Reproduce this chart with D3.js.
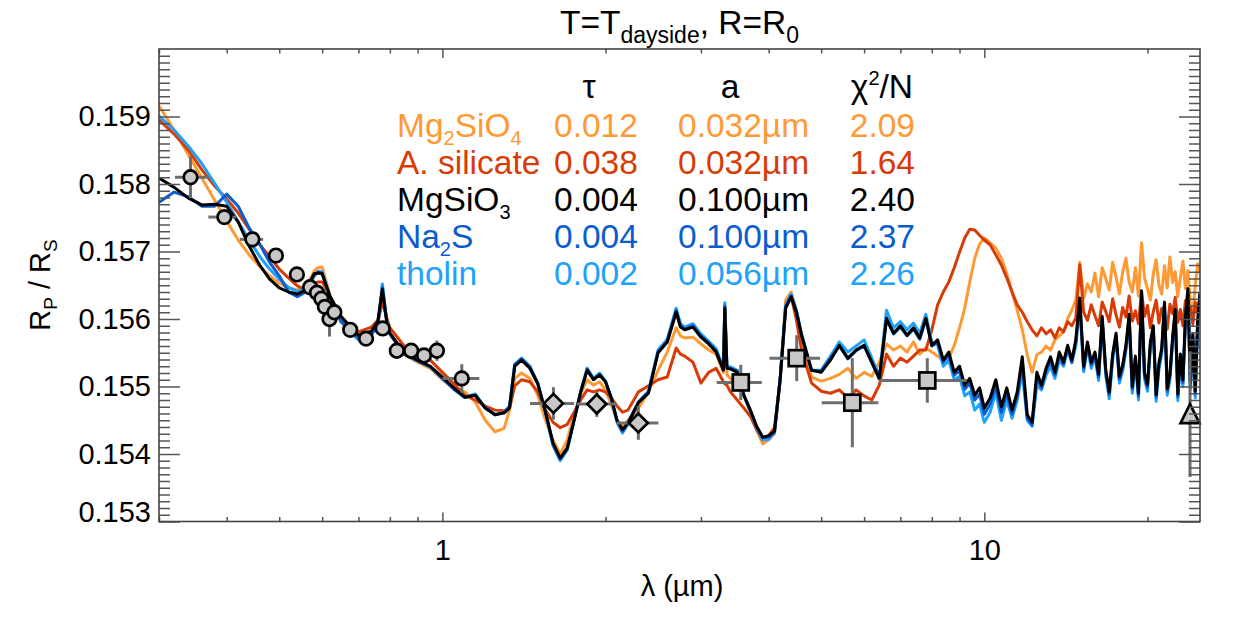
<!DOCTYPE html>
<html>
<head>
<meta charset="utf-8">
<title>T=T dayside, R=R0</title>
<script src="https://d3js.org/d3.v7.min.js"></script>
<style>
  body { margin: 0; background: #fff; }
  svg text { font-family: "Liberation Sans", Arial, Helvetica, sans-serif; white-space: pre; }
</style>
</head>
<body>
<svg width="1246" height="623" id="spec"></svg>
<script>
// wavelength grid of the model spectra (micron)
var wave = [0.30,0.32,0.34,0.36,0.38,0.40,0.42,0.44,0.46,0.48,0.50,0.52,0.54,0.56,0.58,0.59,0.60,
  0.62,0.65,0.70,0.74,0.76,0.775,0.79,0.80,0.85,0.90,0.95,1.00,1.05,1.10,1.15,1.20,1.25,1.30,1.33,1.36,1.40,
  1.45,1.50,1.55,1.60,1.65,1.70,1.75,1.80,1.85,1.90,1.95,2.00,2.05,2.10,2.15,2.20,2.30,2.40,2.50,2.60,
  2.70,2.75,2.80,2.90,3.00,3.10,3.20,3.30,3.32,3.35,3.40,3.50,3.60,3.70,3.80,3.90,4.00,4.10,4.20,4.30,
  4.40,4.50,4.60,4.80,5.00,5.20,
  5.4,5.6,5.8,6.0,6.2,6.4,6.6,6.8,7.0,7.2,7.4,7.6,7.8,8.0,8.2,8.4,8.6,8.8,9.0,9.2,9.4,9.6,9.8,10.0,
  10.25,10.5,10.75,11,11.25,11.5,11.75,12,12.25,12.5,12.75,13,13.25,13.5,13.75,14,14.25,14.5,14.75,15,
  15.25,15.5,15.75,16,16.25,16.5,16.75,17,17.25,17.5,17.75,18,18.25,18.5,18.75,19,19.25,19.5,19.75,20,
  20.25,20.5,20.75,21,21.25,21.5,21.75,22,22.25,22.5,22.75,23,23.25,23.5,23.75,24,24.25,24.5,24.75,25];

// model Rp/Rs on that grid, one array per condensate
var mg2sio4 = [0.15916,0.15880,0.15843,0.15809,0.15776,0.15745,0.15717,0.15695,0.15678,0.15664,0.15653,0.15646,0.15643,0.15647,0.15671,0.15676,0.15677,
  0.15636,0.15595,0.15575,0.15581,0.15593,0.15628,0.15601,0.15578,0.15547,0.15536,0.15527,0.15510,0.15498,0.15492,0.15477,0.15450,0.15433,0.15438,0.15465,0.15512,0.15520,
  0.15512,0.15487,0.15450,0.15421,0.15400,0.15421,0.15459,0.15489,0.15510,0.15502,0.15507,0.15495,0.15473,0.15450,0.15441,0.15450,0.15468,0.15492,0.15524,0.15551,
  0.15587,0.15575,0.15572,0.15573,0.15563,0.15554,0.15548,0.15521,0.15621,0.15517,0.15512,0.15502,0.15487,0.15462,0.15436,0.15415,0.15421,0.15430,0.15510,0.15628,
  0.15640,0.15612,0.15569,0.15514,0.15508,0.15512,
  0.15518,0.15527,0.15512,0.15521,0.15515,0.15536,0.15563,0.15554,0.15560,0.15551,0.15566,0.15548,0.15557,0.15551,0.15545,0.15539,0.15542,0.15561,0.15587,0.15616,0.15655,0.15690,0.15711,0.15720,
  0.15713,0.15705,0.15690,0.15667,0.15640,0.15613,0.15584,0.15547,0.15521,0.15547,0.15551,0.15560,0.15554,0.15569,0.15575,0.15581,0.15601,0.15613,0.15628,0.15684,
  0.15631,0.15652,0.15640,0.15668,0.15633,0.15676,0.15660,0.15643,0.15684,0.15662,0.15637,0.15670,0.15690,0.15655,0.15640,0.15676,0.15634,0.15713,0.15661,0.15645,
  0.15628,0.15667,0.15688,0.15650,0.15637,0.15679,0.15646,0.15692,0.15654,0.15670,0.15633,0.15662,0.15686,0.15645,0.15672,0.15621,0.15608,0.15650,0.15682,0.15668];

var asil = [0.15895,0.15874,0.15850,0.15821,0.15797,0.15778,0.15757,0.15733,0.15711,0.15692,0.15674,0.15661,0.15649,0.15643,0.15652,0.15655,0.15655,
  0.15634,0.15601,0.15581,0.15588,0.15598,0.15625,0.15601,0.15587,0.15560,0.15548,0.15539,0.15521,0.15504,0.15487,0.15480,0.15471,0.15465,0.15464,0.15468,0.15501,0.15510,
  0.15507,0.15492,0.15465,0.15447,0.15439,0.15444,0.15462,0.15480,0.15495,0.15492,0.15495,0.15492,0.15483,0.15471,0.15462,0.15465,0.15492,0.15501,0.15510,0.15514,
  0.15557,0.15548,0.15545,0.15536,0.15505,0.15521,0.15527,0.15507,0.15504,0.15502,0.15492,0.15480,0.15468,0.15456,0.15436,0.15421,0.15427,0.15439,0.15510,0.15619,
  0.15634,0.15599,0.15554,0.15505,0.15493,0.15490,
  0.15495,0.15483,0.15495,0.15486,0.15480,0.15502,0.15548,0.15530,0.15542,0.15536,0.15545,0.15554,0.15554,0.15584,0.15621,0.15640,0.15655,0.15676,0.15699,0.15720,0.15733,0.15732,0.15724,0.15717,
  0.15710,0.15695,0.15680,0.15661,0.15640,0.15621,0.15610,0.15596,0.15584,0.15575,0.15587,0.15578,0.15584,0.15572,0.15587,0.15581,0.15596,0.15590,0.15601,0.15680,
  0.15610,0.15598,0.15621,0.15605,0.15590,0.15625,0.15611,0.15596,0.15630,0.15606,0.15588,0.15617,0.15603,0.15634,0.15597,0.15612,0.15593,0.15640,0.15604,0.15620,
  0.15587,0.15611,0.15628,0.15594,0.15616,0.15603,0.15585,0.15622,0.15608,0.15632,0.15595,0.15614,0.15590,0.15627,0.15606,0.15619,0.15592,0.15625,0.15609,0.15631];

var mgsio3 = [0.15809,0.15795,0.15779,0.15769,0.15770,0.15767,0.15744,0.15708,0.15680,0.15659,0.15646,0.15640,0.15637,0.15643,0.15667,0.15668,0.15667,
  0.15634,0.15604,0.15576,0.15582,0.15596,0.15644,0.15594,0.15579,0.15550,0.15539,0.15530,0.15514,0.15498,0.15484,0.15487,0.15468,0.15458,0.15461,0.15468,0.15530,0.15539,
  0.15527,0.15504,0.15462,0.15416,0.15394,0.15409,0.15450,0.15492,0.15524,0.15510,0.15517,0.15507,0.15483,0.15450,0.15436,0.15446,0.15476,0.15490,0.15550,0.15566,
  0.15610,0.15588,0.15584,0.15588,0.15573,0.15563,0.15551,0.15524,0.15616,0.15527,0.15526,0.15521,0.15487,0.15465,0.15441,0.15425,0.15427,0.15434,0.15510,0.15616,
  0.15633,0.15610,0.15576,0.15524,0.15521,0.15539,
  0.15561,0.15542,0.15554,0.15561,0.15536,0.15512,0.15601,0.15579,0.15590,0.15576,0.15587,0.15572,0.15601,0.15561,0.15569,0.15539,0.15551,0.15521,0.15530,0.15502,0.15512,0.15487,0.15498,0.15468,
  0.15483,0.15510,0.15470,0.15498,0.15465,0.15492,0.15544,0.15458,0.15447,0.15521,0.15502,0.15527,0.15544,0.15521,0.15551,0.15536,0.15561,0.15539,0.15569,0.15631,
  0.15530,0.15566,0.15536,0.15551,0.15518,0.15604,0.15525,0.15492,0.15548,0.15579,0.15515,0.15532,0.15561,0.15607,0.15500,0.15545,0.15490,0.15642,0.15520,0.15503,
  0.15566,0.15590,0.15488,0.15535,0.15557,0.15625,0.15497,0.15519,0.15572,0.15614,0.15489,0.15548,0.15510,0.15604,0.15645,0.15505,0.15578,0.15493,0.15596,0.15640];

var na2s = [0.15773,0.15788,0.15781,0.15767,0.15767,0.15785,0.15767,0.15735,0.15711,0.15684,0.15664,0.15640,0.15633,0.15640,0.15664,0.15670,0.15668,
  0.15633,0.15597,0.15572,0.15579,0.15590,0.15647,0.15594,0.15578,0.15548,0.15538,0.15529,0.15512,0.15496,0.15484,0.15487,0.15468,0.15458,0.15461,0.15470,0.15532,0.15541,
  0.15529,0.15504,0.15462,0.15415,0.15393,0.15407,0.15450,0.15492,0.15526,0.15511,0.15518,0.15507,0.15483,0.15449,0.15434,0.15446,0.15477,0.15492,0.15551,0.15567,
  0.15613,0.15590,0.15585,0.15590,0.15575,0.15565,0.15553,0.15526,0.15619,0.15529,0.15527,0.15523,0.15487,0.15465,0.15440,0.15424,0.15425,0.15433,0.15511,0.15618,
  0.15634,0.15612,0.15576,0.15524,0.15523,0.15542,
  0.15560,0.15541,0.15553,0.15560,0.15535,0.15511,0.15599,0.15578,0.15588,0.15575,0.15585,0.15570,0.15600,0.15560,0.15566,0.15536,0.15547,0.15517,0.15524,0.15496,0.15505,0.15480,0.15489,0.15459,
  0.15474,0.15501,0.15462,0.15490,0.15459,0.15486,0.15536,0.15453,0.15443,0.15514,0.15498,0.15523,0.15539,0.15517,0.15547,0.15533,0.15558,0.15536,0.15566,0.15628,
  0.15526,0.15562,0.15532,0.15547,0.15514,0.15600,0.15521,0.15488,0.15544,0.15575,0.15511,0.15528,0.15557,0.15603,0.15496,0.15541,0.15486,0.15638,0.15516,0.15499,
  0.15562,0.15586,0.15484,0.15531,0.15553,0.15621,0.15493,0.15515,0.15568,0.15611,0.15485,0.15544,0.15506,0.15600,0.15642,0.15501,0.15574,0.15489,0.15592,0.15636];

var tholin = [0.15901,0.15880,0.15856,0.15830,0.15801,0.15773,0.15744,0.15717,0.15693,0.15674,0.15659,0.15647,0.15641,0.15644,0.15664,0.15670,0.15670,
  0.15631,0.15596,0.15569,0.15576,0.15591,0.15652,0.15596,0.15578,0.15548,0.15538,0.15529,0.15512,0.15496,0.15484,0.15489,0.15468,0.15459,0.15462,0.15471,0.15533,0.15542,
  0.15530,0.15505,0.15461,0.15412,0.15390,0.15406,0.15450,0.15493,0.15527,0.15512,0.15520,0.15508,0.15481,0.15447,0.15431,0.15444,0.15477,0.15493,0.15554,0.15570,
  0.15616,0.15593,0.15588,0.15593,0.15578,0.15567,0.15556,0.15527,0.15624,0.15530,0.15529,0.15524,0.15487,0.15464,0.15439,0.15421,0.15422,0.15431,0.15512,0.15621,
  0.15637,0.15613,0.15578,0.15524,0.15524,0.15545,
  0.15566,0.15551,0.15560,0.15569,0.15542,0.15515,0.15613,0.15587,0.15596,0.15584,0.15594,0.15579,0.15607,0.15566,0.15561,0.15530,0.15539,0.15510,0.15515,0.15486,0.15492,0.15465,0.15474,0.15447,
  0.15462,0.15492,0.15450,0.15480,0.15453,0.15480,0.15521,0.15450,0.15441,0.15502,0.15495,0.15517,0.15530,0.15512,0.15539,0.15530,0.15554,0.15535,0.15560,0.15621,
  0.15522,0.15559,0.15527,0.15544,0.15509,0.15597,0.15516,0.15482,0.15540,0.15572,0.15505,0.15523,0.15553,0.15600,0.15490,0.15537,0.15480,0.15636,0.15511,0.15493,
  0.15558,0.15584,0.15478,0.15526,0.15549,0.15619,0.15487,0.15510,0.15564,0.15608,0.15479,0.15540,0.15500,0.15597,0.15639,0.15495,0.15570,0.15483,0.15589,0.15633];

// legend table
var names   = ["Mg_{2}SiO_{4}", "A. silicate", "MgSiO_{3}", "Na_{2}S", "tholin"];
var tauVals = ["0.012", "0.038", "0.004", "0.004", "0.002"];
var aVals   = ["0.032", "0.032", "0.100", "0.100", "0.056"];
var chiVals = ["2.09", "1.64", "2.40", "2.37", "2.26"];
var colors  = ["#ff9933", "#d83c06", "#000000", "#0a5ccf", "#20a2f8"];

// observations: [lambda, Rp/Rs, lambda low, lambda high, error]
var circleObs = [
  [0.343, 0.15810, 0.321, 0.370, 0.00031], [0.396, 0.15751, 0.370, 0.416, 0.00008],
  [0.446, 0.15718, 0.423, 0.467, 0.00010], [0.493, 0.15694, 0.480, 0.506, 0.00008],
  [0.539, 0.15666, 0.530, 0.548, 0.00008], [0.570, 0.15647, 0.565, 0.575, 0.00008],
  [0.587, 0.15639, 0.582, 0.592, 0.00008], [0.598, 0.15630, 0.593, 0.603, 0.00008],
  [0.607, 0.15618, 0.602, 0.612, 0.00010], [0.619, 0.15600, 0.614, 0.624, 0.00026],
  [0.632, 0.15610, 0.627, 0.637, 0.00008], [0.676, 0.15584, 0.668, 0.684, 0.00008],
  [0.723, 0.15571, 0.714, 0.732, 0.00008], [0.776, 0.15586, 0.768, 0.784, 0.00008],
  [0.824, 0.15553, 0.814, 0.834, 0.00008], [0.876, 0.15553, 0.866, 0.886, 0.00008],
  [0.925, 0.15546, 0.915, 0.935, 0.00008], [0.977, 0.15553, 0.967, 0.987, 0.00015],
  [1.086, 0.15512, 1.000, 1.170, 0.00021]];
var diamondObs = [
  [1.603, 0.15475, 1.451, 1.750, 0.00024], [1.927, 0.15474, 1.770, 2.098, 0.00019],
  [2.299, 0.15446, 2.098, 2.503, 0.00025]];
var squareObs = [
  [3.553, 0.15506, 3.208, 3.885, 0.00026], [4.506, 0.15542, 4.012, 4.977, 0.00034],
  [5.707, 0.15476, 5.010, 6.375, 0.00066], [7.848, 0.15509, 6.394, 9.280, 0.00033]];
var triangleObs = [[23.96, 0.15459, 23.96, 23.96, 0.00093]];

var xMajor = [1, 10];
var xMinor = [0.3, 0.4, 0.5, 0.6, 0.7, 0.8, 0.9, 2, 3, 4, 5, 6, 7, 8, 9, 20];
var yMajor = [0.153, 0.154, 0.155, 0.156, 0.157, 0.158, 0.159];

var svg = d3.select("#spec"),
    margin = {top: 49, right: 46, bottom: 101.5, left: 159},
    width = +svg.attr("width") - margin.left - margin.right,
    height = +svg.attr("height") - margin.top - margin.bottom;

var x = d3.scaleLog().domain([0.3, 25]).range([0, width]);
var y = d3.scaleLinear().domain([0.153, 0.160]).range([height, 0]);
var yMinor = d3.range(1531, 1600).filter(function(v) { return v % 10; }).map(function(v) { return v / 10000; });

var g = svg.append("g").attr("transform", "translate(" + margin.left + "," + margin.top + ")");

g.append("clipPath").attr("id", "plotclip")
  .append("rect").attr("width", width).attr("height", height);

// text with _{...} subscripts
function richText(sel, str, subSize, drop) {
  var shifted = 0;
  str.split(/_\{([^}]*)\}/).forEach(function(p, i) {
    if (p === "") return;
    var t = sel.append("tspan").text(p);
    if (i % 2) { t.attr("font-size", subSize).attr("dy", drop - shifted); shifted = drop; }
    else if (shifted) { t.attr("dy", -shifted); shifted = 0; }
  });
  return sel;
}

// ---- model spectra
var models = [mg2sio4, asil, mgsio3, na2s, tholin];
var line = d3.line()
  .x(function(d, i) { return x(wave[i]); })
  .y(function(d) { return y(d); });

var lines = g.append("g").attr("clip-path", "url(#plotclip)");
[0, 1, 4, 3, 2].forEach(function(k) {
  lines.append("path")
    .datum(models[k])
    .attr("fill", "none")
    .attr("stroke", colors[k])
    .attr("stroke-width", 3)
    .attr("stroke-linejoin", "round")
    .attr("d", line);
});

// ---- observations
var obsAll = circleObs.concat(diamondObs, squareObs, triangleObs);
var err = g.append("g").attr("stroke", "#6e6e6e").attr("stroke-width", 3);
obsAll.forEach(function(d) {
  if (d[3] > d[2]) err.append("line")
    .attr("x1", x(d[2])).attr("x2", x(d[3])).attr("y1", y(d[1])).attr("y2", y(d[1]));
  err.append("line")
    .attr("x1", x(d[0])).attr("x2", x(d[0])).attr("y1", y(d[1] - d[4])).attr("y2", y(d[1] + d[4]));
});

var marks = g.append("g").attr("fill", "#c8c8c8").attr("stroke", "#000").attr("stroke-width", 2.7);
marks.selectAll(".circ").data(circleObs).enter().append("circle")
  .attr("cx", function(d) { return x(d[0]); })
  .attr("cy", function(d) { return y(d[1]); })
  .attr("r", 6.8);
marks.selectAll(".dia").data(diamondObs).enter().append("path")
  .attr("d", function(d) { var cx = x(d[0]), cy = y(d[1]);
    return "M" + cx + "," + (cy - 9.5) + "L" + (cx + 9.5) + "," + cy + "L" + cx + "," + (cy + 9.5) + "L" + (cx - 9.5) + "," + cy + "Z"; });
marks.selectAll(".sq").data(squareObs).enter().append("rect")
  .attr("x", function(d) { return x(d[0]) - 8; })
  .attr("y", function(d) { return y(d[1]) - 8; })
  .attr("width", 16).attr("height", 16);
marks.selectAll(".tri").data(triangleObs).enter().append("path")
  .attr("d", function(d) { var cx = x(d[0]), cy = y(d[1]);
    return "M" + cx + "," + (cy - 10) + "L" + (cx + 9.5) + "," + (cy + 9) + "L" + (cx - 9.5) + "," + (cy + 9) + "Z"; });

// ---- axes (IDL style box with inward ticks)
function tickAxis(axisFn, scale, vals, size, transform, fmt, pad) {
  var a = axisFn(scale).tickValues(vals).tickSizeInner(-size).tickSizeOuter(0)
    .tickPadding(pad || 0).tickFormat(fmt || "");
  var ag = g.append("g").attr("transform", transform || null).call(a);
  ag.select(".domain").remove();
  ag.selectAll("line").attr("stroke", "#555").attr("stroke-width", 1.5);
  ag.attr("font-size", 29).attr("font-family", "Liberation Sans, Arial, sans-serif");
  ag.selectAll("text").attr("fill", "#000");
  return ag;
}
tickAxis(d3.axisBottom, x, xMajor, 9, "translate(0," + height + ")", d3.format("d"), 18);
tickAxis(d3.axisBottom, x, xMinor, 4.5, "translate(0," + height + ")");
tickAxis(d3.axisTop, x, xMajor, 9);
tickAxis(d3.axisTop, x, xMinor, 4.5);
var yl = tickAxis(d3.axisLeft, y, yMajor, 21, null, d3.format(".3f"), 8);
yl.selectAll("text").filter(function(d) { return d === 0.153; }).attr("dy", "0em");
tickAxis(d3.axisLeft, y, yMinor, 11);
tickAxis(d3.axisRight, y, yMajor, 21, "translate(" + width + ",0)");
tickAxis(d3.axisRight, y, yMinor, 11, "translate(" + width + ",0)");

g.append("rect").attr("width", width).attr("height", height)
  .attr("fill", "none").attr("stroke", "#444").attr("stroke-width", 1.6);

// ---- titles
richText(svg.append("text").attr("x", 679.5).attr("y", 34).attr("text-anchor", "middle")
  .attr("font-size", 33.5), "T=T_{dayside}, R=R_{0}", 23, 9);

svg.append("text").attr("x", 682).attr("y", 596).attr("text-anchor", "middle")
  .attr("font-size", 29).text("\u03bb (\u00b5m)");

richText(svg.append("text").attr("transform", "translate(50,285) rotate(-90)")
  .attr("text-anchor", "middle").attr("font-size", 29), "R_{P} / R_{S}", 19, 7);

// ---- legend table
var leg = svg.append("g").attr("font-size", 33.5);
leg.append("text").attr("x", 589).attr("y", 98).attr("text-anchor", "middle").text("\u03c4");
leg.append("text").attr("x", 730).attr("y", 98).attr("text-anchor", "middle").text("a");
var chiHead = leg.append("text").attr("x", 913).attr("y", 98).attr("text-anchor", "end");
chiHead.append("tspan").text("\u03c7");
chiHead.append("tspan").attr("font-size", 20).attr("dy", -13).text("2");
chiHead.append("tspan").attr("dy", 13).text("/N");

names.forEach(function(n, i) {
  var yy = 136.5 + i * 37;
  richText(leg.append("text").attr("x", 397).attr("y", yy).attr("fill", colors[i]), n, 20, 8);
  leg.append("text").attr("x", 554).attr("y", yy).attr("fill", colors[i]).text(tauVals[i]);
  leg.append("text").attr("x", 678).attr("y", yy).attr("fill", colors[i]).text(aVals[i] + "\u00b5m");
  leg.append("text").attr("x", 915).attr("y", yy).attr("text-anchor", "end").attr("fill", colors[i]).text(chiVals[i]);
});
</script>
</body>
</html>
